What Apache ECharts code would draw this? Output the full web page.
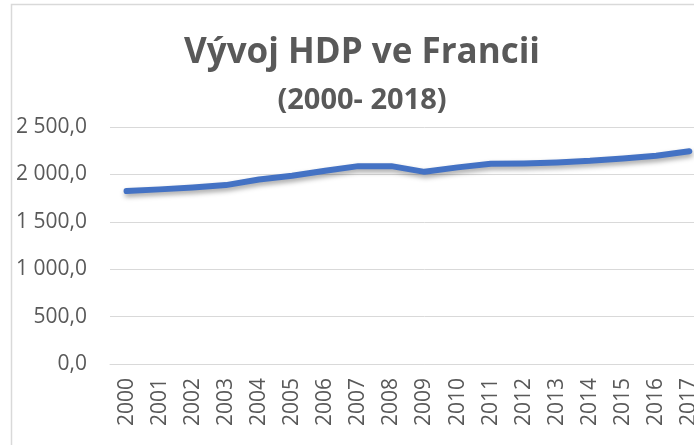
<!DOCTYPE html>
<html>
<head>
<meta charset="utf-8">
<script src="https://cdn.jsdelivr.net/npm/echarts@6/dist/echarts.min.js"></script>
<style>
html,body{margin:0;padding:0;background:#fff;overflow:hidden;width:694px;height:445px;}
#chart{width:740px;height:445px;}
</style>
</head>
<body>
<div id="chart"></div>
<script>
const titleText = 'Vývoj HDP ve Francii';
const subtitleText = '(2000- 2018)';
const years = ['2000','2001','2002','2003','2004','2005','2006','2007','2008','2009','2010','2011','2012','2013','2014','2015','2016','2017','2018'];
const gdp = [1824,1842,1863,1887,1947,1985,2038,2087,2087,2027,2074,2112,2116,2126,2143,2168,2196,2245,null];
const yTicks = {min:0, max:2500, interval:500};

function fmt(v){
  const s = v.toFixed(1).split('.');
  const int = s[0].replace(/\B(?=(\d{3})+(?!\d))/g, ' ');
  return int + ',' + s[1];
}

const chart = echarts.init(document.getElementById('chart'), null, {renderer:'canvas'});
chart.setOption({
  animation:false,
  backgroundColor:'#ffffff',
  textStyle:{fontFamily:'"Open Sans", sans-serif'},
  graphic:[{
    type:'rect',
    shape:{x:11.5, y:4.5, width:800, height:600},
    style:{fill:'none', stroke:'#D9D9D9', lineWidth:1.5},
    silent:true, z:-1
  }],
  title:[{
    text:titleText,
    left:357, top:31, textAlign:'center',
    textStyle:{fontFamily:'"Open Sans", sans-serif', fontWeight:'bold', fontSize:35, color:'#595959'}
  },{
    text:subtitleText,
    left:357, top:81, textAlign:'center',
    textStyle:{fontFamily:'"Open Sans", sans-serif', fontWeight:'bold', fontSize:29, color:'#595959'}
  }],
  grid:{left:110, width:629, top:127, height:237, containLabel:false},
  xAxis:{
    type:'category',
    data:years,
    boundaryGap:true,
    axisLine:{show:true, lineStyle:{color:'#D9D9D9', width:1}},
    axisTick:{show:false},
    axisLabel:{rotate:90, margin:14, interval:0, fontSize:21, color:'#595959', fontFamily:'"Open Sans", sans-serif'}
  },
  yAxis:{
    type:'value',
    min:yTicks.min, max:yTicks.max, interval:yTicks.interval,
    axisLine:{show:false},
    axisTick:{show:false},
    splitLine:{lineStyle:{color:'#D9D9D9', width:1}},
    axisLabel:{margin:23, fontSize:21, color:'#595959', fontFamily:'"Open Sans", sans-serif', formatter:fmt}
  },
  series:[{
    type:'line',
    data:gdp,
    symbol:'none',
    smooth:false,
    lineStyle:{color:'#4472C4', width:6, cap:'round', join:'round',
      shadowColor:'rgba(0,0,0,0.35)', shadowBlur:5, shadowOffsetY:3, shadowOffsetX:1},
    itemStyle:{color:'#4472C4'}
  }]
});
</script>
</body>
</html>
